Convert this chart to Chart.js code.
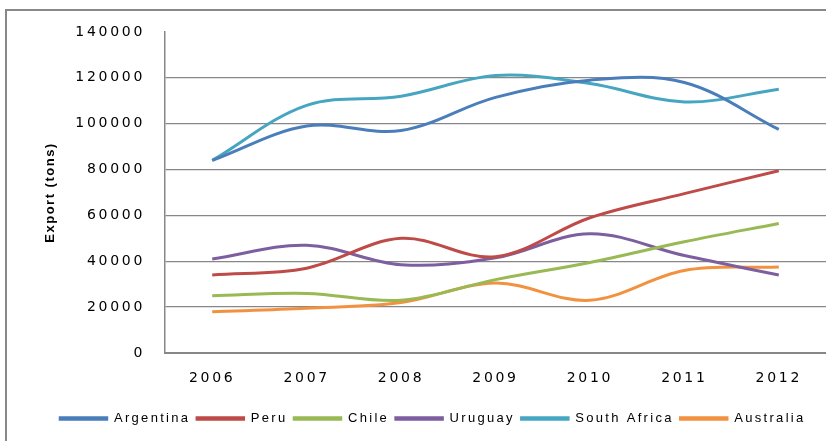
<!DOCTYPE html>
<html>
<head>
<meta charset="utf-8">
<script src="https://cdn.jsdelivr.net/npm/chart.js@4"></script>
<style>
    html, body { margin: 0; padding: 0; background: #fff; overflow: hidden; }
    #moldura { position: absolute; left: 5px; top: 9px; width: 900px; height: 500px; border: 2px solid #888; }
    #grafico { position: absolute; left: 0; top: 0; }
</style>
</head>
<body>
<div id="moldura"></div>
<canvas id="grafico" width="826" height="441"></canvas>
<script>
// Dados do gráfico
const anos = ['2006', '2007', '2008', '2009', '2010', '2011', '2012'];
const argentina = [84000, 99000, 97000, 111500, 119000, 118000, 97500];
const peru = [34000, 37000, 50000, 42000, 59000, 69500, 79500];
const chile = [25000, 26000, 23000, 32000, 39500, 48500, 56500];
const uruguai = [41000, 47000, 38500, 41500, 52000, 42500, 34000];
const africaDoSul = [84000, 108000, 112000, 121000, 117500, 109500, 115000];
const australia = [18000, 19500, 22000, 30500, 23000, 36000, 37500];
const ticksY = [0, 20000, 40000, 60000, 80000, 100000, 120000, 140000];

const cinza = '#878787';

// Envolve um método de desenho para aplicar espaçamento entre letras
function envolver(obj, metodo, valor) {
    if (!obj || obj['_orig_' + metodo]) return;
    const orig = obj[metodo];
    obj['_orig_' + metodo] = orig;
    obj[metodo] = function(...args) {
        const ctx = this.ctx;
        ctx.save();
        ctx.letterSpacing = valor;
        const r = orig.apply(this, args);
        ctx.restore();
        return r;
    };
}

const espacamento = {
    id: 'espacamento',
    beforeLayout(chart) {
        envolver(chart.legend, 'fit', '2.3px');
        envolver(chart.legend, 'draw', '2.3px');
    },
    beforeDraw(chart) {
        Object.values(chart.scales).forEach(s => {
            envolver(s, 'drawLabels', '2.7px');
            envolver(s, 'drawTitle', '1.5px');
        });
    }
};

function serie(nome, dados, cor) {
    return {
        label: nome,
        data: dados,
        borderColor: cor,
        backgroundColor: cor,
        borderWidth: 3,
        pointRadius: 0,
        tension: 0.35,
        fill: false
    };
}

new Chart(document.getElementById('grafico'), {
    type: 'line',
    data: {
        labels: anos,
        datasets: [
            serie('Argentina', argentina, '#4A7EBB'),
            serie('Peru', peru, '#BE4B48'),
            serie('Chile', chile, '#98B954'),
            serie('Uruguay', uruguai, '#7D5FA0'),
            serie('South Africa', africaDoSul, '#46A6C2'),
            serie('Australia', australia, '#F29240')
        ]
    },
    plugins: [espacamento],
    options: {
        responsive: false,
        animation: false,
        layout: { padding: { left: 39, top: 32, right: 0, bottom: 6 } },
        plugins: {
            tooltip: { enabled: false },
            legend: {
                position: 'bottom',
                labels: {
                    boxWidth: 48,
                    boxHeight: 3,
                    padding: 6,
                    color: '#000',
                    font: { family: 'Liberation Sans', size: 13 },
                    generateLabels: function(chart) {
                        return Chart.defaults.plugins.legend.labels.generateLabels(chart)
                            .map(l => Object.assign(l, { lineWidth: 1.5 }));
                    }
                }
            }
        },
        scales: {
            x: {
                offset: true,
                grid: { display: false, drawTicks: false },
                border: { display: true, color: cinza, width: 2 },
                ticks: {
                    maxRotation: 0,
                    padding: 17,
                    color: '#000',
                    font: { family: 'DejaVu Sans', size: 14 }
                },
                afterFit: function(scale) { scale.height = 53; }
            },
            y: {
                min: 0,
                max: 140000,
                afterBuildTicks: function(scale) {
                    scale.ticks = ticksY.map(v => ({ value: v }));
                },
                grid: {
                    drawTicks: false,
                    color: ctx => (ctx.tick && ctx.tick.value === 140000) ? 'rgba(0,0,0,0)' : cinza,
                    lineWidth: 1.3
                },
                border: { display: true, color: cinza, width: 1.5 },
                ticks: {
                    padding: 20,
                    color: '#000',
                    font: { family: 'DejaVu Sans', size: 14 },
                    callback: v => String(v)
                },
                title: {
                    display: true,
                    text: 'Export (tons)',
                    color: '#000',
                    padding: { top: 4, bottom: 0 },
                    font: { family: 'Liberation Sans', size: 13, weight: 'bold' }
                },
                afterFit: function(scale) { scale.width = 126; }
            }
        }
    }
});
</script>
</body>
</html>
